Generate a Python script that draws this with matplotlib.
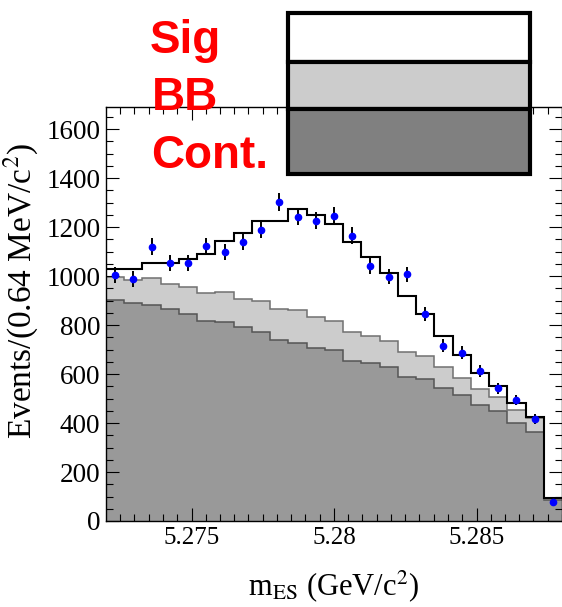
import numpy as np
import matplotlib
matplotlib.use("Agg")
import matplotlib.pyplot as plt
from matplotlib.patches import Rectangle

plt.rcParams['font.family'] = ['Liberation Serif', 'DejaVu Serif']
plt.rcParams['mathtext.fontset'] = 'stix'

# binning: 25 bins of 0.64 MeV from 5.272 GeV
m_lo = 5.272
bin_w = 0.00064
n_bins = 25
edges = m_lo + bin_w * np.arange(n_bins + 1)

# data points (events per bin)
data = np.array([1004, 988, 1120, 1053, 1053, 1122, 1099, 1139, 1189, 1301,
                 1242, 1226, 1246, 1165, 1042, 997, 1007, 845, 716, 687,
                 612, 542, 494, 415, 79])
data_err = np.sqrt(data)

# stacked fit components (cumulative levels)
cont = np.array([902, 888, 882, 864, 845, 816, 814, 793, 773, 739,
                 728, 705, 698, 654, 644, 627, 589, 578, 542, 514,
                 473, 449, 401, 364, 84])
cont_plus_bb = np.array([997, 984, 990, 967, 954, 932, 936, 906, 899, 865,
                         861, 834, 816, 773, 755, 736, 691, 673, 627, 582,
                         538, 507, 453, 419, 90])
total_fit = np.array([1027, 1027, 1054, 1054, 1069, 1090, 1144, 1176, 1223, 1226,
                      1273, 1249, 1211, 1140, 1079, 1014, 918, 845, 757, 678,
                      603, 552, 480, 426, 94])

legend_labels = ['Sig', 'BB', 'Cont.']
legend_colors = ['white', '#cccccc', '#808080']

W, H = 562, 607
fig = plt.figure(figsize=(W / 100, H / 100), dpi=100)
ax = fig.add_axes([106 / W, 1 - 521 / H, 456 / W, 414 / H])

ax.stairs(cont, edges, baseline=0, fill=True, color='#999999', lw=0)
ax.stairs(cont_plus_bb, edges, baseline=cont, fill=True, color='#cccccc', lw=0)
ax.stairs(cont, edges, baseline=None, color='#555555', lw=1.1)
ax.stairs(cont_plus_bb, edges, baseline=None, color='#707070', lw=1.1)
ax.stairs(total_fit, edges, baseline=None, color='black', lw=1.5)

centers = 0.5 * (edges[:-1] + edges[1:])
ax.errorbar(centers, data, yerr=data_err, fmt='none', ecolor='black', elinewidth=1.4, zorder=4)
ax.plot(centers, data, 'o', color='#0000ff', ms=4.5, mec='#0000ff', zorder=5)

ax.set_xlim(edges[0], edges[-1])
ax.set_ylim(0, 1690)
ax.set_xticks([5.275, 5.28, 5.285])
ax.set_xticklabels(['5.275', '5.28', '5.285'])
ax.set_xticks(np.arange(5.2725, 5.288, 0.0005), minor=True)
ax.set_yticks(np.arange(0, 1601, 200))
ax.set_yticks(np.arange(0, 1690, 50), minor=True)
ax.tick_params(which='both', direction='in', top=True, right=True, width=0.8, pad=4)
ax.tick_params(axis='x', labelsize=18)
ax.tick_params(axis='y', labelsize=19.5)
ax.tick_params(which='major', length=9.5)
ax.tick_params(which='minor', length=5)
for s in ax.spines.values():
    s.set_linewidth(1.0)

ax.set_xlabel(r'm$_{\rm ES}$ (GeV/c$^{2}$)', fontsize=22)
ax.xaxis.set_label_coords(0.5, -0.115)
ax.set_ylabel(r'Events/(0.64 MeV/c$^{2}$)', fontsize=24)
ax.yaxis.set_label_coords(-0.142, 0.556)

# legend boxes drawn over the top of the frame
box_tops = [13.3, 61.7, 109.3]
box_bots = [61.7, 109.3, 174]
for top, bot, col in zip(box_tops, box_bots, legend_colors):
    fig.add_artist(Rectangle((288 / W, 1 - bot / H), 242 / W, (bot - top) / H,
                             transform=fig.transFigure, facecolor=col,
                             edgecolor='black', lw=3, zorder=5))

text_pos = [(150, 53), (152, 110), (151, 168)]
for (px, py), lab in zip(text_pos, legend_labels):
    fig.text(px / W, 1 - py / H, lab, color='#ff0000', fontsize=33,
             fontweight='bold', family='Liberation Sans', ha='left', va='baseline', zorder=6)

fig.savefig('out.png', dpi=100)
